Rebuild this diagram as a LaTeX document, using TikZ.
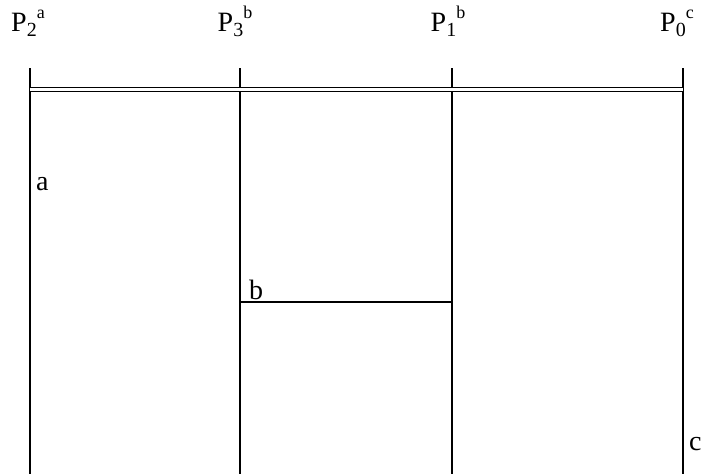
\documentclass[tikz,border=0pt]{standalone}
\usepackage{fontspec}
\setmainfont{Liberation Serif}
\usetikzlibrary{positioning}

\newcommand{\pname}[2]{P\raisebox{-0.2em}{\fontsize{20}{20}\selectfont #1}\raisebox{0.45em}{\fontsize{18}{18}\selectfont #2}}

\begin{document}
\begin{tikzpicture}[x=1pt, y=-1pt,
    plabel/.style={font=\fontsize{28}{30}\selectfont, inner sep=0pt, anchor=base},
    tag/.style={font=\fontsize{28}{30}\selectfont, inner sep=0pt, anchor=base west},
    wall/.style={draw, line width=1.5pt},
    rail/.style={draw, line width=1.3pt, double, double distance=3pt}
]
\useasboundingbox (0,0) rectangle (701,474);

% Position labels (top row)
\node[plabel] (P2) at (28, 31) {\pname{2}{a}};
\node[plabel] (P3) at (235, 31) {\pname{3}{b}};
\node[plabel] (P1) at (448, 31) {\pname{1}{b}};
\node[plabel] (P0) at (677, 31) {\pname{0}{c}};

% Top and bottom ends of the vertical lines
\coordinate (T2) at (30, 68);
\coordinate (T3) at (240, 68);
\coordinate (T1) at (452, 68);
\coordinate (T0) at (683, 68);
\coordinate (B2) at (30, 474);
\coordinate (B3) at (240, 474);
\coordinate (B1) at (452, 474);
\coordinate (B0) at (683, 474);

% Rail ends
\coordinate (R2) at (30, 89.5);
\coordinate (R0) at (683, 89.5);

% Branch line between P3 and P1
\coordinate (Q3) at (240, 302);
\coordinate (Q1) at (452, 302);

% Vertical lines
\path[wall] (T2) -- (B2);
\path[wall] (T3) -- (B3);
\path[wall] (T1) -- (B1);
\path[wall] (T0) -- (B0);

% Double rail
\path[rail] (R2) -- (R0);

% Branch
\path[wall] (Q3) -- (Q1);

% Point labels
\node[tag] (a) at (36, 190) {a};
\node[tag] (b) at (249, 299) {b};
\node[tag] (c) at (689, 450) {c};

\end{tikzpicture}
\end{document}
